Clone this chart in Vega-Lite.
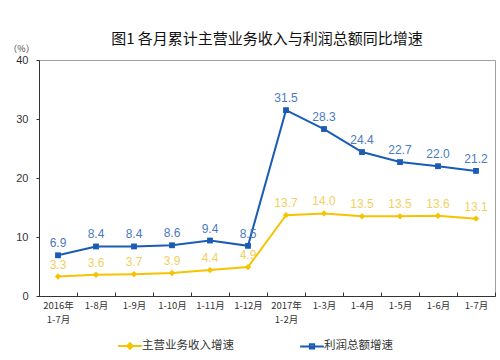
{
  "$schema": "https://vega.github.io/schema/vega-lite/v6.json",
  "width": 456,
  "height": 236,
  "autosize": {"type": "none"},
  "padding": {"left": 39, "top": 60, "right": 5, "bottom": 64},
  "background": "white",
  "title": {
    "text": "图1  各月累计主营业务收入与利润总额同比增速",
    "font": "Noto Sans CJK SC",
    "fontSize": 15,
    "fontWeight": "normal",
    "color": "#111111",
    "anchor": "middle",
    "offset": -3
  },
  "config": {
    "view": {"stroke": "#a0a0a0", "strokeWidth": 1},
    "font": "Liberation Sans"
  },
  "data": {
    "values": [
      {"month": "2016年 1-7月", "series": "主营业务收入增速", "value": 3.3},
      {"month": "1-8月", "series": "主营业务收入增速", "value": 3.6},
      {"month": "1-9月", "series": "主营业务收入增速", "value": 3.7},
      {"month": "1-10月", "series": "主营业务收入增速", "value": 3.9},
      {"month": "1-11月", "series": "主营业务收入增速", "value": 4.4},
      {"month": "1-12月", "series": "主营业务收入增速", "value": 4.9},
      {"month": "2017年 1-2月", "series": "主营业务收入增速", "value": 13.7},
      {"month": "1-3月", "series": "主营业务收入增速", "value": 14.0},
      {"month": "1-4月", "series": "主营业务收入增速", "value": 13.5},
      {"month": "1-5月", "series": "主营业务收入增速", "value": 13.5},
      {"month": "1-6月", "series": "主营业务收入增速", "value": 13.6},
      {"month": "1-7月", "series": "主营业务收入增速", "value": 13.1},
      {"month": "2016年 1-7月", "series": "利润总额增速", "value": 6.9},
      {"month": "1-8月", "series": "利润总额增速", "value": 8.4},
      {"month": "1-9月", "series": "利润总额增速", "value": 8.4},
      {"month": "1-10月", "series": "利润总额增速", "value": 8.6},
      {"month": "1-11月", "series": "利润总额增速", "value": 9.4},
      {"month": "1-12月", "series": "利润总额增速", "value": 8.5},
      {"month": "2017年 1-2月", "series": "利润总额增速", "value": 31.5},
      {"month": "1-3月", "series": "利润总额增速", "value": 28.3},
      {"month": "1-4月", "series": "利润总额增速", "value": 24.4},
      {"month": "1-5月", "series": "利润总额增速", "value": 22.7},
      {"month": "1-6月", "series": "利润总额增速", "value": 22.0},
      {"month": "1-7月", "series": "利润总额增速", "value": 21.2}
    ]
  },
  "encoding": {
    "x": {
      "field": "month",
      "type": "nominal",
      "sort": null,
      "scale": {"type": "band", "paddingInner": 0, "paddingOuter": 0},
      "axis": {
        "title": null,
        "labelAngle": 0,
        "labelExpr": "isString(datum.value) ? split(datum.value, ' ') : ''",
        "labelFont": "Noto Sans CJK SC",
        "labelFontSize": 9.5,
        "labelColor": "#333333",
        "labelPadding": 8,
        "tickBand": "extent",
        "tickSize": -4,
        "tickColor": "#333333",
        "domainColor": "#333333",
        "labelLineHeight": 14
      }
    },
    "y": {
      "field": "value",
      "type": "quantitative",
      "scale": {"domain": [0, 40]},
      "axis": {
        "title": "（%）",
        "titleAngle": 0,
        "titleX": -18,
        "titleY": -12,
        "titleAlign": "center",
        "titleBaseline": "middle",
        "titleFont": "Noto Sans CJK SC",
        "titleFontSize": 9,
        "titleFontWeight": "normal",
        "titleColor": "#444444",
        "values": [0, 10, 20, 30, 40],
        "grid": false,
        "labelFontSize": 11,
        "labelColor": "#333333",
        "labelPadding": 8,
        "tickSize": 3,
        "tickColor": "#333333",
        "domainColor": "#333333"
      }
    }
  },
  "layer": [
    {
      "mark": {"type": "line", "strokeWidth": 2},
      "encoding": {
        "color": {
          "field": "series",
          "type": "nominal",
          "scale": {"domain": ["主营业务收入增速", "利润总额增速"], "range": ["#f5c400", "#1a5cb5"]},
          "legend": null
        }
      }
    },
    {
      "transform": [{"filter": "datum.series === '主营业务收入增速'"}],
      "mark": {"type": "point", "filled": true, "size": 40, "opacity": 1, "shape": "diamond", "color": "#f5c400"},
      "encoding": {}
    },
    {
      "transform": [{"filter": "datum.series === '利润总额增速'"}],
      "mark": {"type": "point", "filled": true, "size": 34, "opacity": 1, "shape": "square", "color": "#1a5cb5"},
      "encoding": {}
    },
    {
      "mark": {"type": "text", "dy": -12, "fontSize": 12, "baseline": "middle"},
      "encoding": {
        "text": {"field": "value", "type": "quantitative", "format": ".1f"},
        "color": {
          "field": "series",
          "type": "nominal",
          "scale": {"domain": ["主营业务收入增速", "利润总额增速"], "range": ["#f2d05e", "#4a7bbf"]},
          "legend": null
        }
      }
    },
    {
      "mark": {"type": "point", "filled": true, "opacity": 0, "strokeWidth": 2},
      "encoding": {
        "fill": {
          "field": "series",
          "type": "nominal",
          "scale": {"domain": ["主营业务收入增速", "利润总额增速"], "range": ["#f5c400", "#1a5cb5"]},
          "legend": {
            "orient": "none",
            "legendX": 85,
            "legendY": 280,
            "direction": "horizontal",
            "title": null,
            "symbolOpacity": 1,
            "symbolSize": 90,
            "symbolStrokeWidth": 2,
            "labelFont": "Noto Sans CJK SC",
            "labelFontSize": 11.5,
            "labelColor": "#333333",
            "labelOffset": 6,
            "columnPadding": 62
          }
        },
        "stroke": {
          "field": "series",
          "type": "nominal",
          "scale": {"domain": ["主营业务收入增速", "利润总额增速"], "range": ["#f5c400", "#1a5cb5"]}
        },
        "shape": {
          "field": "series",
          "type": "nominal",
          "scale": {
            "domain": ["主营业务收入增速", "利润总额增速"],
            "range": ["M-2.5,0H2.5M0,-0.6L0.6,0L0,0.6L-0.6,0Z", "M-2.5,0H2.5M-0.45,-0.45H0.45V0.45H-0.45Z"]
          }
        }
      }
    }
  ],
  "resolve": {"scale": {"color": "independent"}}
}
